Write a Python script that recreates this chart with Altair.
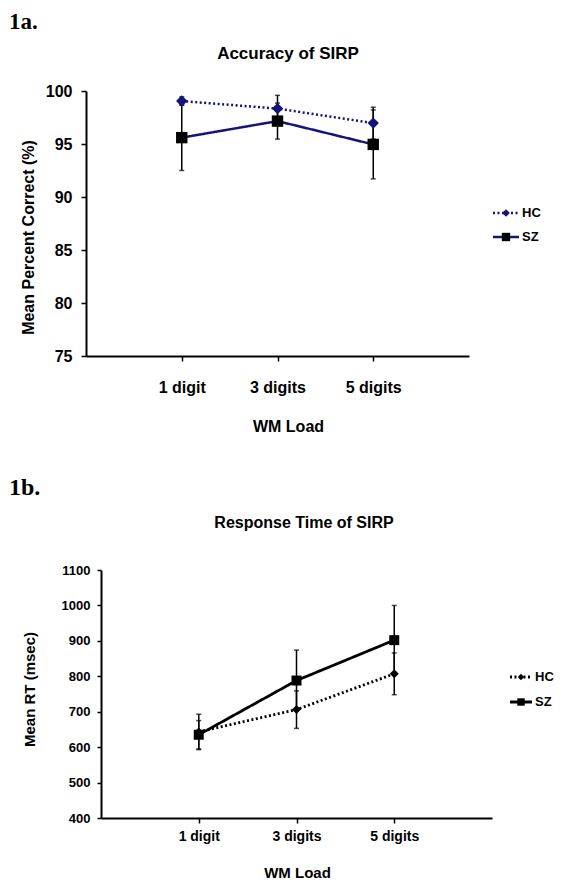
import altair as alt
import pandas as pd

# ---------------- data ----------------
cats = ["1 digit", "3 digits", "5 digits"]
groups = ["HC", "SZ"]

acc_hc = [99.05, 98.34, 96.97]
acc_hc_err = [0.4, 1.25, 1.5]
acc_sz = [95.6, 97.16, 94.96]
acc_sz_err = [3.1, 1.7, 3.25]

rt_hc = [643, 706, 807]
rt_hc_err = [50, 53, 59]
rt_sz = [635, 788, 902]
rt_sz_err = [40, 86, 98]

acc_ticks = [75, 80, 85, 90, 95, 100]
rt_ticks = [400, 500, 600, 700, 800, 900, 1000, 1100]

SANS = "Liberation Sans"
SERIF = "Liberation Serif"
NAVY = "#141478"


def frame(hc, hc_err, sz, sz_err):
    rows = []
    for c, v, e in zip(cats, hc, hc_err):
        rows.append({"load": c, "group": "HC", "mean": v, "err": e})
    for c, v, e in zip(cats, sz, sz_err):
        rows.append({"load": c, "group": "SZ", "mean": v, "err": e})
    return pd.DataFrame(rows)


def panel(df, tag, title, ytitle, ydomain, yticks, w, h, s):
    xaxis = alt.Axis(
        title="WM Load", titleX=s["xt_x"], titleY=s["xt_y"], titleBaseline="middle",
        titleAlign="center", titleFont=SANS, titleFontSize=s["axtitle"], titleFontWeight="bold",
        titleColor="black", labelFont=SANS, labelFontSize=s["xlab"], labelFontWeight="bold",
        labelColor="black", labelAngle=0, labelBaseline="middle", labelPadding=s["xlabpad"],
        tickSize=5, tickColor="black", tickWidth=1.5, domainColor="black", domainWidth=2,
        grid=False,
    )
    yaxis = alt.Axis(
        title=ytitle, titleX=s["yt_x"], titleY=s["yt_y"], titleBaseline="middle",
        titleAlign="center", titleAngle=270, titleFont=SANS, titleFontSize=s["axtitle"],
        titleFontWeight="bold", titleColor="black", labelFont=SANS, labelFontSize=s["ylab"],
        labelFontWeight="bold", labelColor="black", labelPadding=s["ylabpad"], format="d",
        values=yticks, tickSize=s["ytick"], tickColor="black", tickWidth=1.5,
        domainColor="black", domainWidth=2, grid=False,
    )
    xenc = alt.X("load:N", sort=cats, scale=alt.Scale(type="point", padding=1), axis=xaxis)
    yscale = alt.Scale(domain=ydomain, nice=False, zero=False)

    def Y(field):
        return alt.Y(field, scale=yscale, axis=yaxis, title=ytitle)

    base = alt.Chart(df).transform_calculate(
        lo="datum.mean - datum.err", hi="datum.mean + datum.err"
    )

    err = base.mark_rule(color="black", strokeWidth=1.5).encode(
        x=xenc, y=Y("lo:Q"), y2="hi:Q"
    )
    cap_lo = base.mark_tick(color="black", size=5, thickness=1.5, orient="horizontal").encode(
        x=xenc, y=Y("lo:Q")
    )
    cap_hi = base.mark_tick(color="black", size=5, thickness=1.5, orient="horizontal").encode(
        x=xenc, y=Y("hi:Q")
    )
    line = base.mark_line(color=s["line"], strokeWidth=s["lw"]).encode(
        x=xenc,
        y=Y("mean:Q"),
        detail="group:N",
        strokeDash=alt.StrokeDash(
            "group:N", scale=alt.Scale(domain=groups, range=[s["dash"], [1, 0]]), legend=None
        ),
    )
    pts = base.mark_point(filled=True, opacity=1).encode(
        x=xenc,
        y=Y("mean:Q"),
        shape=alt.Shape("group:N", scale=alt.Scale(domain=groups, range=["diamond", "square"]), legend=None),
        color=alt.Color("group:N", scale=alt.Scale(domain=groups, range=[s["hcfill"], "black"]), legend=None),
        size=alt.Size("group:N", scale=alt.Scale(domain=groups, range=s["sizes"]), legend=None),
    )

    # headings
    tag_df = pd.DataFrame({"t": [tag]})
    ttl_df = pd.DataFrame({"t": [title]})
    tag_txt = alt.Chart(tag_df).mark_text(
        font=SERIF, fontSize=s["tagsize"], fontWeight="bold", align="left",
        baseline=s["tag_base"], color="black",
    ).encode(text="t:N", x=alt.value(s["tag_x"]), y=alt.value(s["tag_y"]))
    ttl_txt = alt.Chart(ttl_df).mark_text(
        font=SANS, fontSize=s["title"], fontWeight="bold", align="center", baseline="middle", color="black"
    ).encode(text="t:N", x=alt.value(s["ttl_x"]), y=alt.value(s["ttl_y"]))
    layers = [err, cap_lo, cap_hi, line, pts, tag_txt, ttl_txt]

    if "anchor_y" in s:
        # invisible marker fixing the panel's upper edge
        layers.append(
            alt.Chart(tag_df).mark_rule(opacity=0, strokeWidth=0).encode(
                x=alt.value(s["tag_x"]), y=alt.value(s["anchor_y"]), y2=alt.value(s["anchor_y"] + 2)
            )
        )

    # legend
    for g, dash, shp, fill, sz, ly in [
        ("HC", s["dash"], "diamond", s["hcfill"], s["legsizes"][0], s["leg_y"][0]),
        ("SZ", [1, 0], "square", "black", s["legsizes"][1], s["leg_y"][1]),
    ]:
        ldf = pd.DataFrame({"label": [g]})
        layers.append(
            alt.Chart(ldf).mark_rule(color=s["line"], strokeWidth=s["lw"], strokeDash=dash).encode(
                x=alt.value(s["leg_x"][0]), x2=alt.value(s["leg_x"][1]), y=alt.value(ly)
            )
        )
        layers.append(
            alt.Chart(ldf).mark_point(filled=True, opacity=1, shape=shp, color=fill, size=sz).encode(
                x=alt.value((s["leg_x"][0] + s["leg_x"][1]) / 2), y=alt.value(ly)
            )
        )
        layers.append(
            alt.Chart(ldf).mark_text(
                font=SANS, fontSize=13, fontWeight="bold", align="left", baseline="middle", color="black"
            ).encode(text="label:N", x=alt.value(s["leg_x"][1] + 3), y=alt.value(ly))
        )

    return alt.layer(*layers).properties(width=w, height=h)


def spacer():
    # invisible 1px column so that each panel's left edge (not its plot origin) is aligned
    return (
        alt.Chart(pd.DataFrame({"s": [0]}))
        .mark_rule(opacity=0, strokeWidth=0)
        .encode(x=alt.value(0), y=alt.value(0), y2=alt.value(1))
        .properties(width=1, height=1)
    )


top_style = dict(
    xt_x=202, xt_y=70, axtitle=16, xlab=16, xlabpad=26, yt_x=-58, yt_y=146,
    ylab=16, ylabpad=9, ytick=5, line=NAVY, lw=2.5, dash=[2, 2.5], hcfill=NAVY,
    sizes=[130, 130], legsizes=[60, 70], tagsize=23, tag_base="alphabetic",
    tag_x=-77, tag_y=-62, anchor_y=-82.7, ttl_x=202, ttl_y=-37,
    title=17, leg_x=[407, 433], leg_y=[122, 146],
)
bot_style = dict(
    xt_x=196, xt_y=54, axtitle=15, xlab=14, xlabpad=13, yt_x=-72, yt_y=119,
    ylab=13, ylabpad=7, ytick=4, line="black", lw=2.8, dash=[2, 2.5], hcfill="black",
    sizes=[80, 100], legsizes=[40, 55], tagsize=24, tag_base="top",
    tag_x=-92, tag_y=-94, ttl_x=203, ttl_y=-47,
    title=16, leg_x=[409, 431], leg_y=[107, 132],
)

top = panel(
    frame(acc_hc, acc_hc_err, acc_sz, acc_sz_err), "1a.", "Accuracy of SIRP",
    "Mean Percent Correct (%)", [75, 100], acc_ticks, 383, 265, top_style,
)
bottom = panel(
    frame(rt_hc, rt_hc_err, rt_sz, rt_sz_err), "1b.", "Response Time of SIRP",
    "Mean RT (msec)", [400, 1100], rt_ticks, 391, 248, bot_style,
)

independent = dict(
    x="independent", y="independent", color="independent",
    shape="independent", size="independent", strokeDash="independent",
)

chart = (
    alt.vconcat(
        alt.hconcat(spacer(), top, spacing=0).resolve_scale(**independent),
        alt.hconcat(spacer(), bottom, spacing=0).resolve_scale(**independent),
        spacing=42,
    )
    .resolve_scale(**independent)
    .properties(padding=0)
    .configure(background="white")
    .configure_view(strokeWidth=0, stroke=None)
)

chart.save("out.html", embed_options={"renderer": "svg", "actions": False})
